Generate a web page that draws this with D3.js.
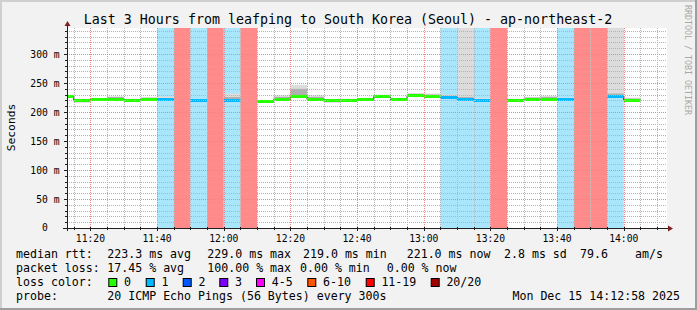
<!DOCTYPE html>
<html><head><meta charset="utf-8">
<script src="https://cdn.jsdelivr.net/npm/d3@7"></script>
<style>html,body{margin:0;padding:0;background:#f2f2f2;overflow:hidden}text{font-family:"DejaVu Sans Mono",monospace}</style>
</head><body><svg id="c" width="697" height="310"></svg>
<script>
// ---------- data ----------
const stepStarts = ["11:10","11:15","11:20","11:25","11:30","11:35","11:40","11:45","11:50","11:55",
  "12:00","12:05","12:10","12:15","12:20","12:25","12:30","12:35","12:40","12:45","12:50","12:55",
  "13:00","13:05","13:10","13:15","13:20","13:25","13:30","13:35","13:40","13:45","13:50","13:55","14:00"];
const medianMs = [228,221,223,222,221,223,222,null,220,null,
  221,null,219,222,227,222,220,221,222,228,222,229,
  228,226,222,220,null,221,223,222,223,null,null,227,221];
const lossCount = [0,0,0,0,0,0,1,20,1,20,
  1,20,0,0,0,0,0,0,0,0,0,0,
  0,1,1,1,20,0,0,0,1,20,20,1,0];
const smokeLo = [226,216,221,220,219,221,221,null,219,null,
  219,null,218,221,224,220,216,218,219,227,219,226,
  226,224,218,218,null,218,221,220,222,null,null,225,218];
const smokeHi = [230,223,224,227,223,226,227,null,222,null,
  232,null,221,229,247,229,222,223,224,230,224,233,
  232,230,400,224,null,223,226,228,225,null,null,400,225];
const coreLo = [227,220,222,221,220,222,221,null,219,null,
  220,null,218,221,225,221,218,219,220,227,221,227,
  227,225,219,219,null,219,222,221,222,null,null,225,219];
const coreHi = [229,222,224,226,222,224,224,null,221,null,
  226,null,220,226,240,226,221,222,223,229,223,231,
  230,228,226,222,null,222,225,226,224,null,null,232,223];
const lossLabels = ["0","1","2","3","4-5","6-10","11-19","20/20"];
const lossColors = ["#26ff00","#00b8ff","#0059ff","#7e00ff","#ff00ff","#ff5500","#ff0000","#a10000"];
const lossBgColors = [null,"#a9e6fb","#a6c4fc","#cfa6fc","#fca6fc","#fcc0a6","#ff8a8a","#ff8a8a"];
const yTickValues = [0,50,100,150,200,250,300];
const yTickLabels = ["0  ","50 m","100 m","150 m","200 m","250 m","300 m"];
const xTickLabels = ["11:20","11:40","12:00","12:20","12:40","13:00","13:20","13:40","14:00"];
const titleText = "Last 3 Hours from leafping to South Korea (Seoul) - ap-northeast-2";
const yAxisTitle = "Seconds";
const legendRtt = ["median rtt:","223.3 ms avg","229.0 ms max","219.0 ms min","221.0 ms now","2.8 ms sd","79.6","am/s"];
const legendLoss = ["packet loss:","17.45 % avg","100.00 % max","0.00 % min","0.00 % now"];
const probeText = ["probe:","20 ICMP Echo Pings (56 Bytes) every 300s","Mon Dec 15 14:12:58 2025"];
const watermark = "RRDTOOL / TOBI OETIKER";

// ---------- setup ----------
const svg = d3.select("#c");
const W = 697, H = 310;
const P = {l:67, r:667, t:28, b:228};
const T = s => { const [h,m] = s.split(":").map(Number); return new Date(2025,11,15,h,m,0); };
const tStart = new Date(2025,11,15,11,12,58), tEnd = new Date(2025,11,15,14,12,58);
const x = d3.scaleTime().domain([tStart,tEnd]).range([P.l,P.r]);
const y = d3.scaleLinear().domain([0,345]).range([P.b,P.t]);
const STEP = 5*60*1000;
const bucket = n => n<=0?0:n===1?1:n===2?2:n===3?3:n<=5?4:n<=10?5:n<=19?6:7;

// background + frame
svg.append("rect").attr("width",W).attr("height",H).attr("fill","#f2f2f2");
svg.append("rect").attr("x",0).attr("y",0).attr("width",W).attr("height",2).attr("fill","#cfcfcf");
svg.append("rect").attr("x",0).attr("y",0).attr("width",2).attr("height",H).attr("fill","#cfcfcf");
svg.append("rect").attr("x",0).attr("y",H-2).attr("width",W).attr("height",2).attr("fill","#9e9e9e");
svg.append("rect").attr("x",W-2).attr("y",0).attr("width",2).attr("height",H).attr("fill","#9e9e9e");

svg.append("defs").append("clipPath").attr("id","pc").append("rect")
  .attr("x",P.l).attr("y",P.t).attr("width",P.r-P.l).attr("height",P.b-P.t);
svg.append("rect").attr("x",P.l).attr("y",P.t).attr("width",P.r-P.l).attr("height",P.b-P.t).attr("fill","#fff");

const g = svg.append("g").attr("clip-path","url(#pc)");
const steps = stepStarts.map((s,i)=>({t0:T(s), t1:new Date(+T(s)+STEP), med:medianMs[i], loss:lossCount[i],
  lo:smokeLo[i], hi:smokeHi[i], clo:coreLo[i], chi:coreHi[i]}));

// loss background bands
g.selectAll("rect.band").data(steps.filter(d=>lossBgColors[bucket(d.loss)])).join("rect")
  .attr("x",d=>x(d.t0)).attr("width",d=>x(d.t1)-x(d.t0))
  .attr("y",P.t).attr("height",P.b-P.t).attr("fill",d=>lossBgColors[bucket(d.loss)]);
// smoke
const sm = steps.filter(d=>d.med!=null);
g.selectAll("rect.smk").data(sm).join("rect")
  .attr("x",d=>x(d.t0)).attr("width",d=>x(d.t1)-x(d.t0))
  .attr("y",d=>y(d.hi)).attr("height",d=>y(d.lo)-y(d.hi)).attr("fill","#dcdcdc");
g.selectAll("rect.core").data(sm).join("rect")
  .attr("x",d=>x(d.t0)).attr("width",d=>x(d.t1)-x(d.t0))
  .attr("y",d=>y(d.chi)).attr("height",d=>y(d.clo)-y(d.chi)).attr("fill","#b0b0b0");
// thin median step line
const pts = [];
steps.forEach(d=>{ pts.push({t:d.t0,v:d.med}); pts.push({t:d.t1,v:d.med}); });
g.append("path").attr("d", d3.line().defined(d=>d.v!=null).x(d=>x(d.t)).y(d=>Math.round(y(d.v))+0.5)(pts))
  .attr("fill","none").attr("stroke","#202020").attr("stroke-width",1);
// colored median band
g.selectAll("rect.med").data(sm).join("rect")
  .attr("x",d=>x(d.t0)).attr("width",d=>x(d.t1)-x(d.t0))
  .attr("y",d=>Math.round(y(d.med))-1).attr("height",3).attr("fill",d=>lossColors[bucket(d.loss)]);

// grid
const gridG = svg.append("g");
const minorT = d3.timeMinute.every(5).range(tStart,tEnd);
minorT.forEach(t=>{
  const major = t.getMinutes()%20===0;
  const xx = Math.round(x(t))+0.5;
  gridG.append("line").attr("x1",xx).attr("x2",xx).attr("y1",P.t).attr("y2",P.b)
    .attr("stroke",major?"#e88888":"#b4b4b4").attr("stroke-dasharray","1,1");
});
d3.range(10,346,10).forEach(v=>{
  const major = v%50===0;
  const yy = Math.round(y(v))+0.5;
  gridG.append("line").attr("x1",P.l).attr("x2",P.r).attr("y1",yy).attr("y2",yy)
    .attr("stroke",major?"#e88888":"#b4b4b4").attr("stroke-dasharray","1,1");
});

// axes
const ax = svg.append("g").attr("stroke","#1f1f1f");
minorT.forEach(t=>{
  const major = t.getMinutes()%20===0;
  const xx = Math.round(x(t))+0.5;
  ax.append("line").attr("x1",xx).attr("x2",xx).attr("y1",P.b-1).attr("y2",P.b+(major?3:2));
});
d3.range(10,346,10).forEach(v=>{
  const major = v%50===0;
  const yy = Math.round(y(v))+0.5;
  ax.append("line").attr("x1",P.l-(major?3:2)).attr("x2",P.l+1).attr("y1",yy).attr("y2",yy);
});
ax.append("line").attr("x1",P.l+0.5).attr("x2",P.l+0.5).attr("y1",P.b+3).attr("y2",P.t-4);
ax.append("line").attr("x1",P.l-4).attr("x2",P.r+3).attr("y1",P.b+0.5).attr("y2",P.b+0.5);
svg.append("path").attr("d",`M${P.l-2.5},${P.t-2}L${P.l+3.5},${P.t-2}L${P.l+0.5},${P.t-7}Z`).attr("fill","#7f1f1f");
svg.append("path").attr("d",`M${P.r+1},${P.b-2.5}L${P.r+1},${P.b+3.5}L${P.r+6},${P.b+0.5}Z`).attr("fill","#7f1f1f");

// tick labels
svg.append("g").selectAll("text").data(yTickValues).join("text")
  .attr("x",59.5).attr("y",v=>y(v)).attr("dy","0.36em").attr("text-anchor","end")
  .attr("font-size","9.7px").attr("xml:space","preserve").style("white-space","pre")
  .text((v,i)=>yTickLabels[i]);
svg.append("g").selectAll("text").data(xTickLabels).join("text")
  .attr("x",s=>x(T(s))).attr("y",241.5).attr("text-anchor","middle").attr("font-size","9.7px").text(s=>s);

// titles
svg.append("text").attr("x",348).attr("y",23.5).attr("text-anchor","middle").attr("font-size","13.3px").text(titleText);
svg.append("text").attr("transform","translate(15,127.5) rotate(-90)").attr("text-anchor","middle")
  .attr("font-size","11.3px").text(yAxisTitle);
svg.append("text").attr("transform","translate(685,5) rotate(90)").attr("font-size","8.3px")
  .attr("fill","#a8a8a8").text(watermark);

// legend
const LF = "11.6px";
const line = (items, xs, yy) => items.forEach((s,i)=>svg.append("text").attr("x",xs[i]).attr("y",yy).attr("font-size",LF).text(s));
line(legendRtt, [16,107.3,207.3,303,406.7,504,580,635], 258.3);
line(legendLoss, [16,107.3,207.3,300,386.7], 271.8);
svg.append("text").attr("x",16).attr("y",286).attr("font-size",LF).text("loss color:");
const boxX = [108.3,145.7,182.7,219.3,256,307.3,365.7,430.7];
lossLabels.forEach((l,i)=>{
  svg.append("rect").attr("x",boxX[i]+0.5).attr("y",278.5).attr("width",8).attr("height",8)
    .attr("fill",lossColors[i]).attr("stroke","#000").attr("stroke-width",1);
  svg.append("text").attr("x",boxX[i]+15.7).attr("y",286).attr("font-size",LF).text(l);
});
svg.append("text").attr("x",16).attr("y",299.5).attr("font-size",LF).text(probeText[0]);
svg.append("text").attr("x",107.3).attr("y",299.5).attr("font-size",LF).text(probeText[1]);
svg.append("text").attr("x",680).attr("y",299.5).attr("text-anchor","end").attr("font-size",LF).text(probeText[2]);
</script></body></html>
